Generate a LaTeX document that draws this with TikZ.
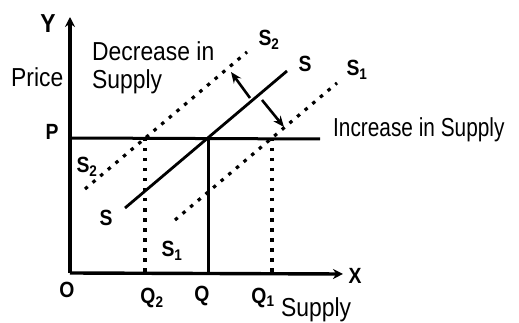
\documentclass[tikz,border=0pt]{standalone}
\usepackage{fontspec}
\usepackage{graphicx}
\setmainfont{Liberation Sans}[FakeStretch=0.88]
\usetikzlibrary{arrows.meta}
\begin{document}
\begin{tikzpicture}[x=1pt,y=-1pt,
  axis/.style={line width=3.4pt,-{Stealth[length=10pt,width=10pt]}},
  solidln/.style={line width=2.8pt},
  dotln/.style={line width=3.2pt,dash pattern=on 3.5pt off 6.5pt},
  lbl/.style={inner sep=0pt,font=\fontsize{22}{24}\selectfont\bfseries},
  txt/.style={inner sep=0pt,font=\fontsize{26}{28}\selectfont},
  shiftarrow/.style={line width=2.6pt,-{Stealth[length=11pt,width=9pt]}}]
\useasboundingbox (0,0) rectangle (519,323);
% key points
\coordinate (O) at (70,273);
\coordinate (Ytop) at (70,17);
\coordinate (Xend) at (343,274);
\coordinate (PL) at (70,138);
\coordinate (PR) at (320,139);
\coordinate (E) at (208,138);
\coordinate (Qb) at (208,273);
\coordinate (E2) at (145,138);
\coordinate (Q2b) at (145,273);
\coordinate (E1) at (272,138);
\coordinate (Q1b) at (272,273);
\coordinate (Sa) at (125,208);
\coordinate (Sb) at (287,71);
\coordinate (S2a) at (85,189);
\coordinate (S2b) at (247,52);
\coordinate (S1a) at (175,220);
\coordinate (S1b) at (337,83);
\coordinate (DecT) at (250,98);
\coordinate (DecH) at (231,72);
\coordinate (IncT) at (262,100);
\coordinate (IncH) at (284,127);
% axes
\draw[axis] (O) -- (Ytop);
\draw[axis] (O) -- (Xend);
\draw[line width=3pt] (PL) -- (PR);
\draw[line width=3pt] (E) -- (Qb);
% curves
\draw[solidln] (Sa) -- (Sb);
\draw[dotln] (S2a) -- (S2b);
\draw[dotln] (S1a) -- (S1b);
\draw[dotln] (E2) -- (Q2b);
\draw[dotln] (E1) -- (Q1b);
% shift arrows
\draw[shiftarrow] (DecT) -- (DecH);
\draw[shiftarrow] (IncT) -- (IncH);
% labels
\node[lbl] (ylab) at (48,24) {\fontsize{26}{28}\selectfont Y};
\node[txt,anchor=west] (price) at (11,77) {Price};
\node[lbl] (plab) at (52,132) {P};
\node[lbl] (olab) at (67,290) {O};
\node[lbl] (xlab) at (355,276) {X};
\node[lbl] (q2lab) at (152,298) {Q\textsubscript{2}};
\node[lbl] (qlab) at (202,296) {Q};
\node[lbl] (q1lab) at (263,298) {Q\textsubscript{1}};
\node[txt,anchor=west] (supx) at (281,310) {Supply};
\node[txt,anchor=north west,align=left] (dec) at (92,41) {Decrease in\\Supply};
\node[txt,anchor=west] (inc) at (333,130) {\scalebox{0.91}[1]{Increase in Supply}};
\node[lbl] (s2top) at (269,40) {S\textsubscript{2}};
\node[lbl] (stop) at (305,64) {S};
\node[lbl] (s1top) at (357,70) {S\textsubscript{1}};
\node[lbl] (s2low) at (87,167) {S\textsubscript{2}};
\node[lbl] (slow) at (106,218) {S};
\node[lbl] (s1low) at (172,251) {S\textsubscript{1}};
\end{tikzpicture}
\end{document}
